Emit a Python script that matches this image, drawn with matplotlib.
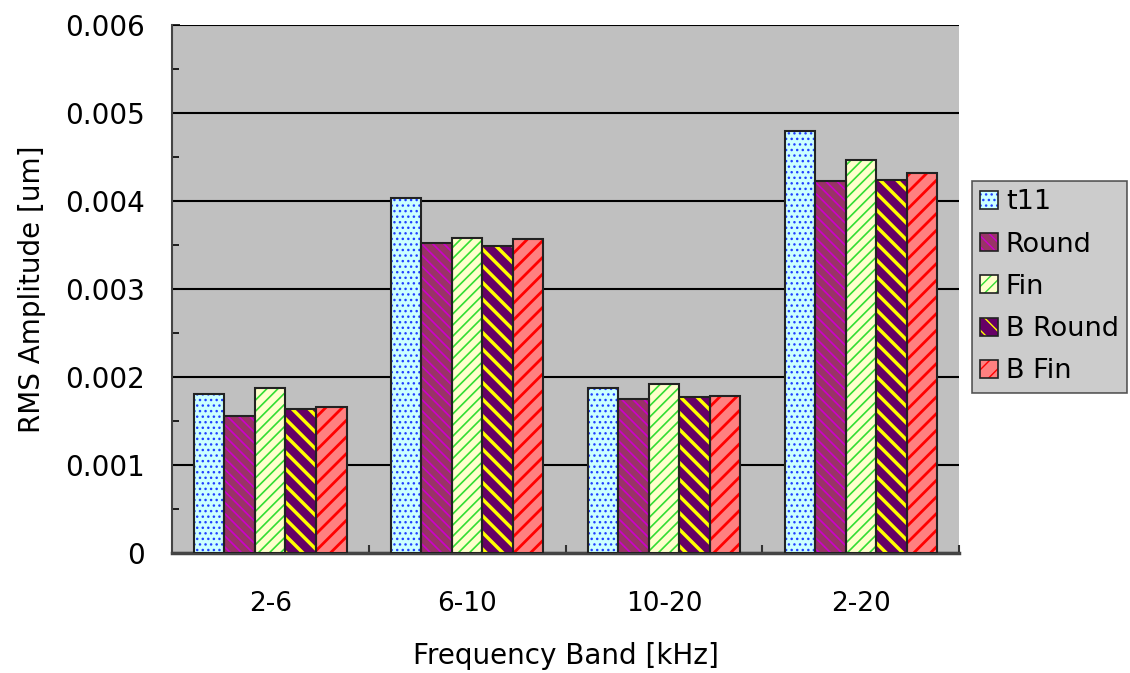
import numpy as np
import matplotlib.pyplot as plt
from matplotlib.colors import to_rgba
from matplotlib.ticker import MultipleLocator, FixedLocator, FuncFormatter

bands = ['2-6', '6-10', '10-20', '2-20']
series = ['t11', 'Round', 'Fin', 'B Round', 'B Fin']
t11 = [0.00181, 0.00403, 0.001875, 0.00480]
round_ = [0.00156, 0.00352, 0.00175, 0.00423]
fin = [0.001875, 0.00358, 0.00192, 0.00447]
b_round = [0.00164, 0.00349, 0.00177, 0.00424]
b_fin = [0.00166, 0.00357, 0.00178, 0.00432]
values = [t11, round_, fin, b_round, b_fin]

# face colour, hatch colour, hatch pattern, hatch line width
styles = [
    ('#ccffff', '#2040ff', '...', 1.0),
    ('#993366', '#cc00cc', '\\\\\\', 1.2),
    ('#ffffcc', '#33dd33', '///', 1.2),
    ('#660066', '#ffff00', '\\\\', 2.5),
    ('#ff8080', '#ff0000', '//', 2.0),
]

plt.rcParams['font.family'] = 'DejaVu Sans'

fig = plt.figure(figsize=(11.3, 6.73), dpi=100)
ax = fig.add_axes([0.152, 0.178, 0.697, 0.785])
ax.set_facecolor('#c0c0c0')

x = np.arange(len(bands))
w = 0.155
handles = []
for i, (name, vals) in enumerate(zip(series, values)):
    fc, hc, hatch, hlw = styles[i]
    pos = x + (i - 2) * w
    with plt.rc_context({'hatch.linewidth': hlw}):
        bars = ax.bar(pos, vals, w, color=fc, edgecolor=hc, hatch=hatch,
                      linewidth=0, zorder=3)
        for b in bars:
            if hasattr(b, 'set_hatch_linewidth'):
                b.set_hatch_linewidth(hlw)
    ax.bar(pos, vals, w, facecolor='none', edgecolor='#222222',
           linewidth=1.5, zorder=4)
    handles.append(bars[0])

ax.set_xlim(-0.5, 3.5)
ax.set_ylim(0, 0.006)
ax.yaxis.set_major_locator(MultipleLocator(0.001))
ax.yaxis.set_minor_locator(MultipleLocator(0.0005))
ax.yaxis.set_major_formatter(FuncFormatter(lambda v, p: '0' if abs(v) < 1e-9 else f'{v:.3f}'))
ax.grid(axis='y', which='major', color='black', linewidth=1.5, zorder=1)
ax.set_axisbelow(True)

ax.set_xticks(x)
ax.set_xticklabels(bands)
ax.xaxis.set_minor_locator(FixedLocator([0.5, 1.5, 2.5, 3.5]))
ax.tick_params(axis='x', which='major', length=0, pad=27, labelsize=19)
ax.tick_params(axis='x', which='minor', direction='in', length=6, width=1.5, color='#333333')
ax.tick_params(axis='y', which='both', direction='in', width=1.2, labelsize=20, pad=19)
ax.tick_params(axis='y', which='major', length=6)
ax.tick_params(axis='y', which='minor', length=5)

for s in ['top', 'right']:
    ax.spines[s].set_visible(False)
ax.spines['left'].set_color('#444444')
ax.spines['left'].set_linewidth(1.5)
ax.spines['bottom'].set_color('#444444')
ax.spines['bottom'].set_linewidth(2.5)

ax.set_xlabel('Frequency Band [kHz]', fontsize=20, labelpad=18)
ax.set_ylabel('RMS Amplitude [um]', fontsize=20, labelpad=14)

leg = ax.legend(handles, series, loc='center left', bbox_to_anchor=(1.016, 0.504),
                fontsize=19.5, frameon=True, fancybox=False, handlelength=0.65,
                handleheight=0.65, handletextpad=0.3, labelspacing=0.6,
                borderpad=0.3, borderaxespad=0)
leg.get_frame().set_facecolor('#c0c0c0')
leg.get_frame().set_edgecolor('#333333')
leg.get_frame().set_linewidth(1.2)
for h, st in zip(leg.legend_handles, styles):
    h.set_linewidth(1.2)
    h.set_edgecolor('#222222')
    h._hatch_color = to_rgba(st[1])

fig.savefig('out.png', dpi=100)
